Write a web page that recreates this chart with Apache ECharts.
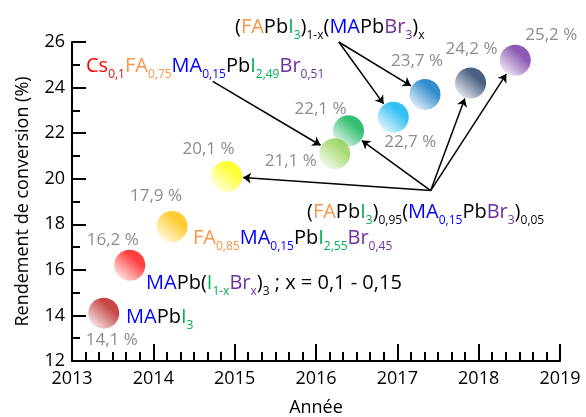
<!DOCTYPE html>
<html><head><meta charset="utf-8">
<script src="https://cdn.jsdelivr.net/npm/echarts@6/dist/echarts.min.js"></script>
<style>html,body{margin:0;padding:0;background:#fff}#c{width:586px;height:417px}</style>
</head><body><div id="c"></div>
<script>
// ---- data ----
const years = [2013.39, 2013.71, 2014.23, 2014.90, 2016.40, 2016.23, 2016.95, 2017.34, 2017.90, 2018.45];
const efficiencies = [14.1, 16.2, 17.9, 20.1, 22.1, 21.1, 22.7, 23.7, 24.2, 25.2];
const xTicks = [2013, 2014, 2015, 2016, 2017, 2018, 2019];
const yTicks = [12, 14, 16, 18, 20, 22, 24, 26];
// annotation arrows: source anchor (data coords) -> indices of target points
const arrowSources = [[2014.73, 24.27], [2016.28, 26.0], [2017.41, 19.48]];
const arrowTargets = [[5], [6, 7], [3, 4, 8, 9]];

// ---- styles ----
const FONT = '"Open Sans", sans-serif';
const ballColors = ['#b81818', '#ff1010', '#ffc000', '#ffff00', '#00b050', '#92d050', '#00b0f0', '#0070c0', '#1f3864', '#7030a0'];
const labelOffsets = [[8, 27], [-17, -25], [-16, -30], [-18, -27], [-28, -22], [-44, 8], [17, 25], [-8, -33], [1, -34], [36, -25]];

function mixWhite(hex, t) {
  const n = parseInt(hex.slice(1), 16);
  const r = (n >> 16) & 255, g = (n >> 8) & 255, b = n & 255;
  const m = c => Math.round(c + (255 - c) * t);
  return 'rgb(' + m(r) + ',' + m(g) + ',' + m(b) + ')';
}

const scatterData = years.map((x, i) => ({
  value: [x, efficiencies[i]],
  itemStyle: {
    color: {
      type: 'linear', x: 0.85, y: 0.1, x2: 0.15, y2: 0.9,
      colorStops: [
        { offset: 0, color: ballColors[i] },
        { offset: 0.25, color: ballColors[i] },
        { offset: 1, color: mixWhite(ballColors[i], 0.85) }
      ]
    }
  },
  label: { offset: labelOffsets[i] }
}));

const mainSize = 20, subSize = 12, subPad = 18;
const cols = { r: '#ff0000', o: '#f79646', b: '#0000ff', k: '#000000', g: '#00b050', p: '#7030a0' };
const rich = {};
Object.keys(cols).forEach(k => {
  rich[k] = { fontFamily: FONT, fontSize: mainSize, fill: cols[k] };
  rich[k + 's'] = { fontFamily: FONT, fontSize: subSize, fill: cols[k], padding: [subPad, 0, 0, 0] };
});

const formulas = [
  { x: 86, y: 66, t: '{r|Cs}{rs|0,1}{o|FA}{os|0,75}{b|MA}{bs|0,15}{k|Pb}{g|I}{gs|2,49}{p|Br}{ps|0,51}' },
  { x: 235, y: 27, t: '{k|(}{o|FA}{k|Pb}{g|I}{gs|3}{k|)}{ks|1-x}{k|(}{b|MA}{k|Pb}{p|Br}{ps|3}{k|)}{ks|x}' },
  { x: 307, y: 212, t: '{k|(}{o|FA}{k|Pb}{g|I}{gs|3}{k|)}{ks|0,95}{k|(}{b|MA}{bs|0,15}{k|Pb}{p|Br}{ps|3}{k|)}{ks|0,05}' },
  { x: 193, y: 238, t: '{o|FA}{os|0,85}{b|MA}{bs|0,15}{k|Pb}{g|I}{gs|2,55}{p|Br}{ps|0,45}' },
  { x: 146, y: 283, t: '{b|MA}{k|Pb(}{g|I}{gs|1-x}{p|Br}{ps|x}{k|)}{ks|3}{k| ; x = 0,1 - 0,15}' },
  { x: 126, y: 317, t: '{b|MA}{k|Pb}{g|I}{gs|3}' }
];

const chart = echarts.init(document.getElementById('c'), null, { renderer: 'canvas' });
const axisLine = { show: true, lineStyle: { color: '#000', width: 2 } };

const option = {
  animation: false,
  backgroundColor: '#fff',
  grid: { left: 72, right: 26, top: 42, bottom: 56, containLabel: false, outerBoundsMode: 'none' },
  xAxis: {
    type: 'value', min: xTicks[0], max: xTicks[xTicks.length - 1], interval: xTicks[1] - xTicks[0],
    name: 'Année', nameLocation: 'middle', nameGap: 38,
    nameTextStyle: { fontFamily: FONT, fontSize: 18, color: '#000' },
    axisLine: axisLine,
    axisTick: { show: true, inside: true, length: 17, lineStyle: { color: '#000', width: 2 } },
    minorTick: { show: true, splitNumber: 6, length: 9, lineStyle: { color: '#000', width: 2 } },
    axisLabel: { fontFamily: FONT, fontSize: 18, color: '#000', margin: 9, formatter: v => String(v) },
    splitLine: { show: false }
  },
  yAxis: {
    type: 'value', min: yTicks[0], max: yTicks[yTicks.length - 1], interval: yTicks[1] - yTicks[0],
    name: 'Rendement de conversion (%)', nameLocation: 'middle', nameGap: 40,
    nameTextStyle: { fontFamily: FONT, fontSize: 18, color: '#000' },
    axisLine: axisLine,
    axisTick: { show: true, inside: true, length: 14, lineStyle: { color: '#000', width: 2 } },
    minorTick: { show: true, splitNumber: 2, length: 8, lineStyle: { color: '#000', width: 2 } },
    axisLabel: { fontFamily: FONT, fontSize: 18, color: '#000', margin: 7 },
    splitLine: { show: false }
  },
  series: [{
    type: 'scatter', symbol: 'circle', symbolSize: 31, z: 3,
    data: scatterData,
    label: {
      show: true, position: 'inside', fontFamily: FONT, fontSize: 17, color: '#6e6e6e',
      formatter: p => p.value[1].toFixed(1).replace('.', ',') + ' %'
    }
  }],
  graphic: formulas.map(f => ({
    type: 'text', x: f.x, y: f.y, z: 10,
    style: { text: f.t, rich: rich, align: 'left', verticalAlign: 'middle', fontFamily: FONT, fontSize: mainSize, fill: '#000' }
  }))
};
chart.setOption(option);

// arrows: from anchor to edge of target ball, through the grid's scales
const arrowData = [];
arrowSources.forEach((src, si) => {
  const p0 = chart.convertToPixel({ gridIndex: 0 }, src);
  arrowTargets[si].forEach(ti => {
    const p1 = chart.convertToPixel({ gridIndex: 0 }, [years[ti], efficiencies[ti]]);
    const dx = p1[0] - p0[0], dy = p1[1] - p0[1];
    const d = Math.sqrt(dx * dx + dy * dy);
    const end = [p1[0] - dx / d * 16.5, p1[1] - dy / d * 16.5];
    arrowData.push({ coords: [src, chart.convertFromPixel({ gridIndex: 0 }, end)] });
  });
});
chart.setOption({
  series: [option.series[0], {
    type: 'lines', coordinateSystem: 'cartesian2d', clip: false, z: 2,
    symbol: ['none', 'arrow'], symbolSize: 8,
    lineStyle: { color: '#000', width: 1.5, opacity: 1 },
    data: arrowData
  }]
});
</script></body></html>
